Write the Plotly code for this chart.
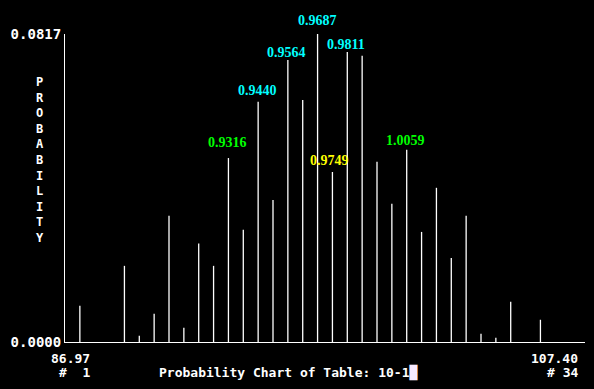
import plotly.graph_objects as go

# ---- data ----
bins = list(range(1, 35))
probability = [0.00962, 0.0, 0.0, 0.0202, 0.00167, 0.0075, 0.0335, 0.0038,
               0.0261, 0.0202, 0.0488, 0.0298, 0.0637, 0.0377, 0.0748, 0.0642,
               0.0817, 0.0451, 0.0769, 0.0759, 0.0478, 0.0367, 0.0510, 0.0292,
               0.0409, 0.0223, 0.0335, 0.0022, 0.00114, 0.0107, 0.0, 0.0059,
               0.0, 0.0]
y_tick_vals = [0.0, 0.0817]
y_tick_text = ["0.0000", "0.0817"]
x_low_label = "86.97"
x_high_label = "107.40"
first_bin_label = "#  1"
last_bin_label = "# 34"
title_text = "Probability Chart of Table: 10-1"
y_title = "PROBABILITY"

label_bins = [11, 13, 15, 17, 18, 19, 23]
label_text = ["0.9316", "0.9440", "0.9564", "0.9687", "0.9749", "0.9811", "1.0059"]
label_color = ["#00ff00", "#00ffff", "#00ffff", "#00ffff", "#ffff00", "#00ffff", "#00ff00"]
label_offset = [16, 11, 8, 14, 11, 8, 9]
label_xshift = [-1, -1, -1, 0, -3, -1, -1]

# ---- stems ----
xs, ys = [], []
for b, p in zip(bins, probability):
    if p > 0:
        xs += [b, b, None]
        ys += [0, p, None]

fig = go.Figure()
fig.add_trace(go.Scatter(x=xs, y=ys, mode="lines",
                         line=dict(color="#ffffff", width=1.3),
                         hoverinfo="skip", showlegend=False))

mono = dict(family="DejaVu Sans Mono", size=13, color="#ffffff", weight="bold")
serif = dict(family="Liberation Serif", size=14, weight="bold")

for b, t, c, off, xsft in zip(label_bins, label_text, label_color, label_offset, label_xshift):
    fig.add_annotation(x=b, y=probability[b - 1], text=t, showarrow=False,
                       xanchor="center", yanchor="middle", yshift=off, xshift=xsft,
                       font=dict(serif, color=c))

# y-axis title (stacked letters)
fig.add_annotation(xref="paper", yref="paper", x=-0.048, y=0.59,
                   text="<br>".join(list(y_title)), showarrow=False,
                   xanchor="center", yanchor="middle",
                   font=dict(mono, size=12))

# x labels
fig.add_annotation(xref="paper", yref="paper", x=0.051, y=-0.052,
                   text=x_low_label, showarrow=False, xanchor="right",
                   yanchor="middle", font=mono)
fig.add_annotation(xref="paper", yref="paper", x=0.051, y=-0.1,
                   text=first_bin_label.replace(" ", "&nbsp;"), showarrow=False,
                   xanchor="right", yanchor="middle", font=mono)
fig.add_annotation(xref="paper", yref="paper", x=0.990, y=-0.052,
                   text=x_high_label, showarrow=False, xanchor="right",
                   yanchor="middle", font=mono)
fig.add_annotation(xref="paper", yref="paper", x=0.990, y=-0.1,
                   text=last_bin_label, showarrow=False, xanchor="right",
                   yanchor="middle", font=mono)
fig.add_annotation(xref="paper", yref="paper", x=0.176, y=-0.1,
                   text=title_text + "<span style='color:#f8eaff'>\u2588</span>",
                   showarrow=False, xanchor="left", yanchor="middle", font=mono)

fig.update_layout(
    width=594, height=389,
    margin=dict(l=65, r=9, t=34, b=47),
    paper_bgcolor="#000000", plot_bgcolor="#000000",
    xaxis=dict(range=[0, 35], showgrid=False, zeroline=False,
               showticklabels=False, showline=True, linecolor="#ffffff",
               linewidth=1, ticks=""),
    yaxis=dict(range=[0, 0.0817], showgrid=False, zeroline=False,
               showline=True, linecolor="#ffffff", linewidth=1,
               tickvals=y_tick_vals, ticktext=y_tick_text, ticks="",
               tickfont=dict(mono, size=14)),
)

fig.write_html("out.html")
